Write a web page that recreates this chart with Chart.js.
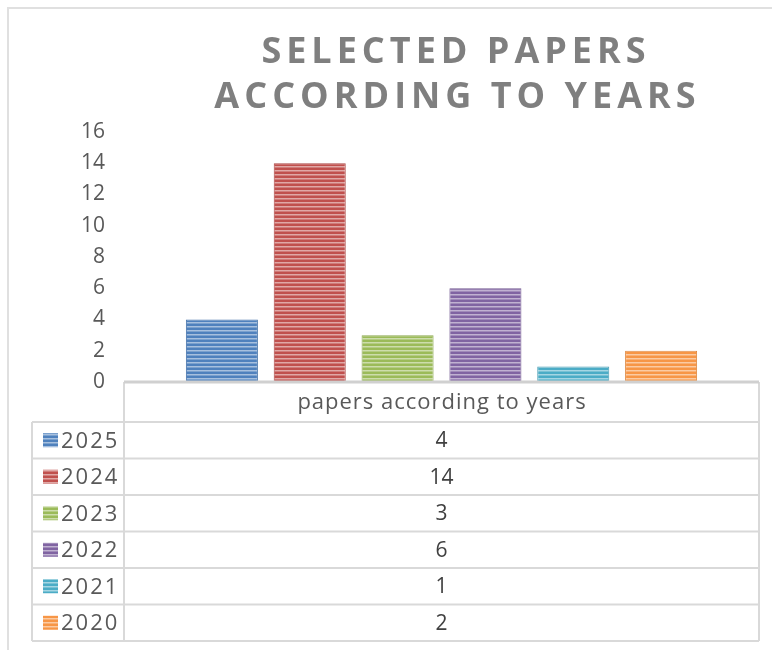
<!DOCTYPE html>
<html>
<head>
<meta charset="utf-8">
<script src="https://cdn.jsdelivr.net/npm/chart.js@4"></script>
<style>
  html, body { margin: 0; padding: 0; background: #fff; }
  #wrap { width: 772px; height: 650px; position: relative; }
</style>
</head>
<body>
<div id="wrap"><canvas id="chart"></canvas></div>
<script>
// Data
const categories = ['papers according to years'];
const years = ['2025', '2024', '2023', '2022', '2021', '2020'];
const papers = [4, 14, 3, 6, 1, 2];
const yTicks = [0, 2, 4, 6, 8, 10, 12, 14, 16];
const titleLines = ['SELECTED PAPERS', 'ACCORDING TO YEARS'];

const colors = ['#4f81bd', '#c0504d', '#9bbb59', '#8064a2', '#4bacc6', '#f79646'];
const FONT = "'Open Sans', sans-serif";

function mix(hex, other, t) {
  const a = parseInt(hex.slice(1), 16), b = parseInt(other.slice(1), 16);
  const ch = s => Math.round(((a >> s) & 255) * (1 - t) + ((b >> s) & 255) * t);
  return `rgb(${ch(16)},${ch(8)},${ch(0)})`;
}

// horizontal stripe fill like the Office pattern
function stripes(hex) {
  const c = document.createElement('canvas');
  c.width = 4; c.height = 4;
  const g = c.getContext('2d');
  g.fillStyle = hex; g.fillRect(0, 0, 4, 4);
  g.fillStyle = mix(hex, '#ffffff', 0.5); g.fillRect(0, 2, 4, 1);
  g.fillStyle = mix(hex, '#ffffff', 0.25); g.fillRect(0, 3, 4, 1);
  return g.createPattern(c, 'repeat');
}

const frameAndTable = {
  id: 'frameAndTable',
  afterDatasetsDraw(chart) {
    const ctx = chart.ctx;
    const xs = chart.scales.x, ys = chart.scales.y;
    const left = xs.left, right = xs.right, base = ys.bottom;
    const legLeft = 32;
    const headH = 40, rowH = 36.5;
    const bottom = base + headH + rowH * years.length;
    ctx.save();

    // outer frame
    ctx.strokeStyle = '#e0e0e0';
    ctx.lineWidth = 2;
    ctx.beginPath();
    ctx.moveTo(8, 650); ctx.lineTo(8, 8); ctx.lineTo(772, 8);
    ctx.stroke();

    // title
    ctx.fillStyle = '#7f7f7f';
    ctx.font = `bold 36px ${FONT}`;
    ctx.letterSpacing = '5px';
    ctx.textAlign = 'center';
    ctx.textBaseline = 'alphabetic';
    ctx.fillText(titleLines[0], 456, 63);
    ctx.fillText(titleLines[1], 457.5, 108);
    ctx.letterSpacing = '0px';

    // table grid
    ctx.strokeStyle = '#d9d9d9';
    ctx.lineWidth = 2;
    ctx.beginPath();
    ctx.moveTo(right, base); ctx.lineTo(right, bottom);
    ctx.moveTo(left, base); ctx.lineTo(left, bottom);
    ctx.moveTo(legLeft, base + headH); ctx.lineTo(legLeft, bottom);
    for (let i = 0; i <= years.length; i++) {
      const y = base + headH + rowH * i;
      ctx.moveTo(legLeft, y); ctx.lineTo(right, y);
    }
    ctx.stroke();
    // axis line
    ctx.strokeStyle = '#d0d0d0';
    ctx.lineWidth = 3;
    ctx.beginPath();
    ctx.moveTo(left, base); ctx.lineTo(right, base);
    ctx.stroke();

    const mid = (left + right) / 2;
    ctx.textBaseline = 'middle';
    ctx.fillStyle = '#595959';
    ctx.font = `22px ${FONT}`;
    ctx.letterSpacing = '1px';
    ctx.fillText(categories[0], mid + 0.5, base + headH / 2 + 1);

    years.forEach((yr, i) => {
      const cy = base + headH + rowH * i + rowH / 2;
      ctx.fillStyle = stripes(colors[i]);
      ctx.fillRect(43, cy - 7, 15, 14);
      ctx.fillStyle = '#595959';
      ctx.textAlign = 'left';
      ctx.font = `22px ${FONT}`;
      ctx.letterSpacing = '2px';
      ctx.fillText(yr, 61, cy + 1);
      ctx.letterSpacing = '0px';
      ctx.textAlign = 'center';
      ctx.font = `21px ${FONT}`;
      ctx.fillStyle = '#404040';
      ctx.fillText(String(papers[i]), mid, cy + 1);
    });
    ctx.restore();
  }
};

new Chart(document.getElementById('chart'), {
  type: 'bar',
  data: {
    labels: categories,
    datasets: years.map((yr, i) => ({
      label: yr,
      data: [papers[i]],
      backgroundColor: stripes(colors[i]),
      borderColor: mix(colors[i], '#000000', 0.1),
      borderWidth: 1,
      categoryPercentage: 0.83,
      barPercentage: 0.82
    }))
  },
  options: {
    responsive: true,
    maintainAspectRatio: false,
    animation: false,
    layout: { padding: { top: 132, bottom: 268, left: 0, right: 13 } },
    plugins: {
      legend: { display: false },
      title: { display: false },
      tooltip: { enabled: false }
    },
    scales: {
      x: { display: false },
      y: {
        min: 0,
        max: 16,
        afterFit: s => { s.width = 124; },
        afterBuildTicks: s => { s.ticks = yTicks.map(v => ({ value: v })); },
        grid: { display: false },
        border: { display: false },
        ticks: { color: '#595959', padding: 11, font: { family: FONT, size: 21 } }
      }
    }
  },
  plugins: [frameAndTable]
});
</script>
</body>
</html>
